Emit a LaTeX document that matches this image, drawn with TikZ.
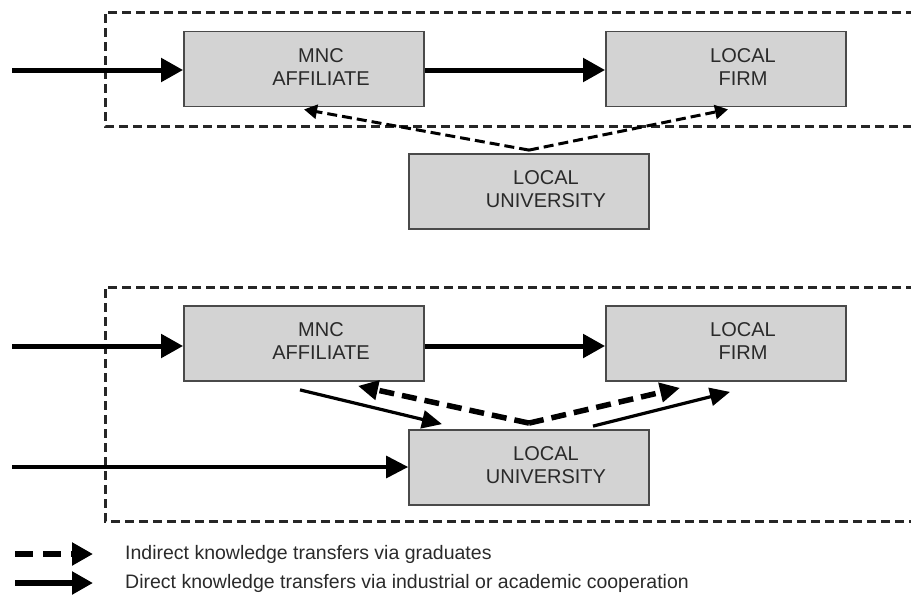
\documentclass[tikz,border=0pt]{standalone}
\usepackage{fontspec}
\setmainfont{Liberation Sans}
\usetikzlibrary{arrows.meta,calc}
\definecolor{boxfill}{HTML}{D3D3D3}
\definecolor{boxline}{HTML}{4A4A4A}
\definecolor{ink}{HTML}{2A2A2A}

\newcommand{\unittext}[2]{\hspace*{34pt}\begin{tabular}{@{}c@{}}#1\\#2\end{tabular}}

\begin{document}
\begin{tikzpicture}[x=1pt,y=-1pt,
  unit/.style={draw=boxline, line width=1.8pt, fill=boxfill,
    minimum width=240pt, minimum height=75pt, inner sep=0pt,
    text=ink, font=\fontsize{20}{23}\selectfont},
  frame/.style={draw=black!85, line width=3pt, dash pattern=on 9pt off 5pt},
  flow/.style={draw=black, line width=5pt, -{Triangle[length=22pt,width=23pt]}},
  thinflow/.style={draw=black, line width=3.2pt, -{Triangle[length=22pt,width=22pt]}},
  coop/.style={draw=black, line width=3.2pt, -{Triangle[length=20pt,width=18pt]}},
  grad/.style={draw=black, line width=3pt, dash pattern=on 10pt off 5pt,
    -{Triangle[length=13pt,width=14pt]}},
  gradbold/.style={draw=black, line width=5.5pt, dash pattern=on 15pt off 8pt,
    -{Triangle[length=20pt,width=19pt]}},
  legtext/.style={anchor=west, text=ink, font=\fontsize{19.5}{23}\selectfont, inner sep=0pt}
]
\useasboundingbox (0,0) rectangle (911,597);

% ---------- upper scheme ----------
\draw[frame] (915,12) -- (105,12) -- (105,126) -- (915,126);

\node[unit] (mnc1)  at (304,69)    {\unittext{MNC}{AFFILIATE}};
\node[unit] (firm1) at (726,69)    {\unittext{LOCAL}{FIRM}};
\node[unit] (uni1)  at (529,191.5) {\unittext{LOCAL}{UNIVERSITY}};

\coordinate (in1) at (12,70);
\draw[flow] (in1) -- (in1 -| mnc1.west);
\draw[flow] (mnc1.east |- in1) -- (firm1.west |- in1);

\coordinate (src1)  at ($(uni1.north)+(0,-3)$);
\coordinate (tipm1) at ($(mnc1.south)+(0,2)$);
\coordinate (tipf1) at ($(firm1.south)+(2,2)$);
\draw[grad] (src1) -- (tipm1);
\draw[grad] (src1) -- (tipf1);

% ---------- lower scheme ----------
\draw[frame] (915,287) -- (105,287) -- (105,521) -- (915,521);

\node[unit] (mnc2)  at (304,343.5) {\unittext{MNC}{AFFILIATE}};
\node[unit] (firm2) at (726,343.5) {\unittext{LOCAL}{FIRM}};
\node[unit] (uni2)  at (529,467.5) {\unittext{LOCAL}{UNIVERSITY}};

\coordinate (in2) at (12,346);
\coordinate (in3) at (12,467);
\draw[flow] (in2) -- (in2 -| mnc2.west);
\draw[flow] (mnc2.east |- in2) -- (firm2.west |- in2);
\draw[thinflow] (in3) -- (in3 -| uni2.west);

\coordinate (src2)  at ($(uni2.north)+(0,-6)$);
\coordinate (tipm2) at ($(mnc2.south)+(54,4)$);
\coordinate (tipf2) at ($(firm2.south)+(-46,6)$);
\draw[gradbold] (src2) -- (tipm2);
\draw[gradbold] (src2) -- (tipf2);

\coordinate (cm2a) at ($(mnc2.south)+(-4,8)$);
\coordinate (cm2b) at ($(uni2.north)+(-87,-5)$);
\coordinate (cu2a) at ($(uni2.north)+(64,-3)$);
\coordinate (cu2b) at ($(firm2.south)+(4,10)$);
\draw[coop] (cm2a) -- (cm2b);
\draw[coop] (cu2a) -- (cu2b);

% ---------- legend ----------
\coordinate (lga) at (15,554);
\coordinate (lgb) at (93,554);
\coordinate (lda) at (15,583);
\coordinate (ldb) at (93,583);
\draw[draw=black, line width=5.5pt, dash pattern=on 18pt off 10pt,
  -{Triangle[length=21pt,width=22pt]}] (lga) -- (lgb);
\draw[draw=black, line width=6.5pt, -{Triangle[length=21pt,width=22pt]}] (lda) -- (ldb);
\node[legtext] (lgtext) at (125,554) {Indirect knowledge transfers via graduates};
\node[legtext] (ldtext) at (125,583) {Direct knowledge transfers via industrial or academic cooperation};
\end{tikzpicture}
\end{document}
